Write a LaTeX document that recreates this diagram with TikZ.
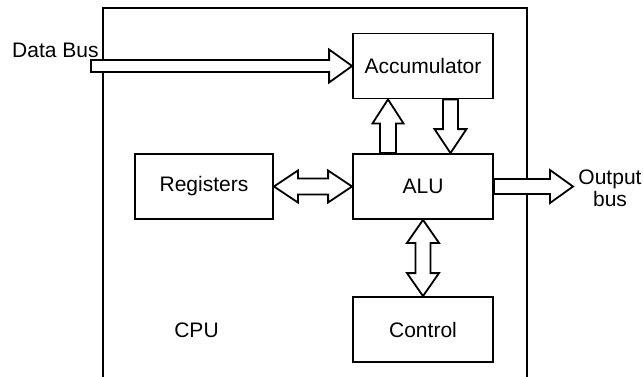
\documentclass[tikz,border=0pt]{standalone}
\usepackage{fontspec}
\setmainfont{Liberation Sans}
\usetikzlibrary{calc}
\tikzset{
  blk/.style={draw, line width=1.8pt, minimum width=140pt, minimum height=65pt, inner sep=0pt, font=\fontsize{21}{21}\selectfont},
  bus/.style={draw, fill=white, line width=1.8pt, line join=miter},
  lbl/.style={inner sep=0pt, font=\fontsize{21}{22}\selectfont},
  frame/.style={draw, line width=1.8pt}
}
% horizontal single arrow: #1 tail, #2 tip, #3 shaft half, #4 head half, #5 head length
\newcommand\hsingle[5]{\draw[bus] let \p1=(#1), \p2=(#2), \n1={sign(\x2-\x1)*#5} in
  (\x1,\y1+#3) -- (\x2-\n1,\y1+#3) -- (\x2-\n1,\y1+#4) -- (\x2,\y1) -- (\x2-\n1,\y1-#4) -- (\x2-\n1,\y1-#3) -- (\x1,\y1-#3) -- cycle;}
\newcommand\vsingle[5]{\draw[bus] let \p1=(#1), \p2=(#2), \n1={sign(\y2-\y1)*#5} in
  (\x1+#3,\y1) -- (\x1+#3,\y2-\n1) -- (\x1+#4,\y2-\n1) -- (\x1,\y2) -- (\x1-#4,\y2-\n1) -- (\x1-#3,\y2-\n1) -- (\x1-#3,\y1) -- cycle;}
\newcommand\hdouble[5]{\draw[bus] let \p1=(#1), \p2=(#2), \n1={sign(\x2-\x1)*#5} in
  (\x1,\y1) -- (\x1+\n1,\y1+#4) -- (\x1+\n1,\y1+#3) -- (\x2-\n1,\y1+#3) -- (\x2-\n1,\y1+#4) -- (\x2,\y1) -- (\x2-\n1,\y1-#4) -- (\x2-\n1,\y1-#3) -- (\x1+\n1,\y1-#3) -- (\x1+\n1,\y1-#4) -- cycle;}
\newcommand\vdouble[5]{\draw[bus] let \p1=(#1), \p2=(#2), \n1={sign(\y2-\y1)*#5} in
  (\x1,\y1) -- (\x1+#4,\y1+\n1) -- (\x1+#3,\y1+\n1) -- (\x1+#3,\y2-\n1) -- (\x1+#4,\y2-\n1) -- (\x1,\y2) -- (\x1-#4,\y2-\n1) -- (\x1-#3,\y2-\n1) -- (\x1-#3,\y1+\n1) -- (\x1-#4,\y1+\n1) -- cycle;}
\begin{document}
\begin{tikzpicture}[x=1pt,y=-1pt]
\useasboundingbox (0,0) rectangle (643,376);
\fill[white] (0,0) rectangle (643,376);
% CPU frame (open at the bottom, cut by the page edge)
\coordinate (fbl) at (103,377);
\coordinate (ftl) at (103,8);
\coordinate (ftr) at (527,8);
\coordinate (fbr) at (527,377);
\draw[frame] (fbl) -- (ftl) -- (ftr) -- (fbr);
% blocks
\node[blk] (acc) at (423,66) {Accumulator};
\node[blk] (alu) at (423,186.5) {ALU};
\node[blk, minimum width=138pt] (reg) at (204,186.5) {Registers};
\node[blk] (ctrl) at (423,329.5) {Control};
% free ends
\coordinate (dbin) at (91,66);
\coordinate (obout) at (573,186.5);
\coordinate (upA) at ($(alu.north)+(-35,0)$);
\coordinate (upB) at ($(acc.south)+(-35,0)$);
\coordinate (dnA) at ($(acc.south)+(27.5,0)$);
\coordinate (dnB) at ($(alu.north)+(27.5,0)$);
% buses
\hsingle{dbin}{acc.west}{6pt}{16.5pt}{23}
\vsingle{upA}{upB}{8pt}{15.5pt}{24}
\vsingle{dnA}{dnB}{7.5pt}{16pt}{24}
\hdouble{reg.east}{alu.west}{8pt}{16pt}{24}
\vdouble{alu.south}{ctrl.north}{7.5pt}{16pt}{23}
\hsingle{alu.east}{obout}{7.5pt}{16.5pt}{23}
% labels
\node[lbl, anchor=base west] (dblbl) at (12,57) {Data Bus};
\node[lbl] (cpulbl) at (196.5,330) {CPU};
\node[lbl, align=center] (oblbl) at (610,188.5) {Output\\bus};
\end{tikzpicture}
\end{document}
